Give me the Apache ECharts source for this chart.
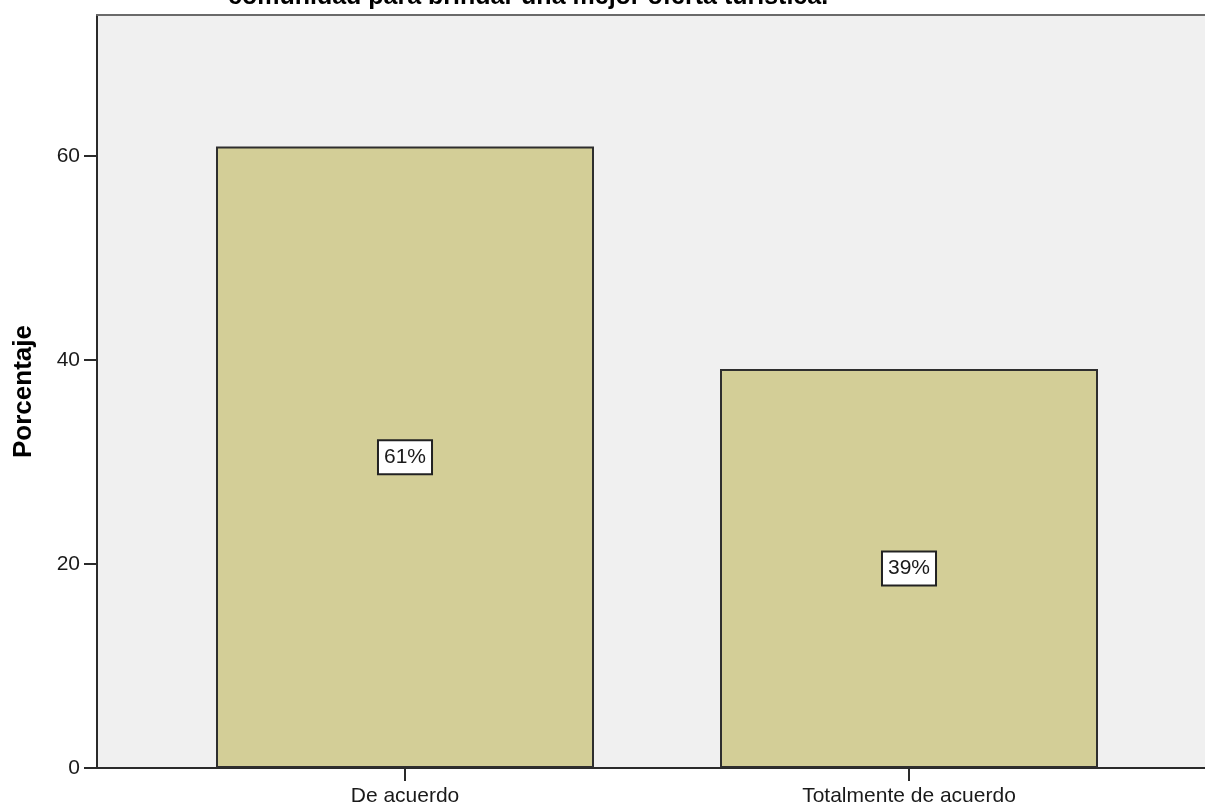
<!DOCTYPE html>
<html>
<head>
<meta charset="utf-8">
<script src="https://cdn.jsdelivr.net/npm/echarts@6/dist/echarts.min.js"></script>
<style>
html,body{margin:0;padding:0;background:#ffffff;}
#chart{width:1205px;height:808px;}
</style>
</head>
<body>
<div id="chart"></div>
<script>
var titleText = 'comunidad para brindar una mejor oferta turística.';
var categories = ['De acuerdo', 'Totalmente de acuerdo'];
var percentValues = [60.9, 39.1];
var percentLabels = ['61%', '39%'];
var yAxisName = 'Porcentaje';

var chart = echarts.init(document.getElementById('chart'));
var FONT = '"Liberation Sans", Arial, sans-serif';
var YMAX = 73.8;

var option = {
  animation: false,
  backgroundColor: '#ffffff',
  graphic: [{
    type: 'text',
    left: 228,
    top: -15,
    z: 10,
    style: {
      text: titleText,
      font: 'bold 25px ' + FONT,
      fill: '#000000'
    }
  }],
  grid: [
    {left: 97, top: 15, width: 1130, bottom: 40, show: true,
     backgroundColor: '#f0f0f0', borderWidth: 0},
    {left: 153, top: 15, width: 1008, bottom: 40}
  ],
  xAxis: [
    {gridIndex: 0, type: 'value', min: 0, max: 1, position: 'bottom',
     axisLine: {show: true, onZero: false, lineStyle: {color: '#2a2a2a', width: 2}},
     axisTick: {show: false}, axisLabel: {show: false}, splitLine: {show: false}},
    {gridIndex: 1, type: 'category', data: categories, boundaryGap: true,
     axisLine: {show: false},
     axisTick: {show: true, alignWithLabel: true, length: 13, lineStyle: {color: '#2a2a2a', width: 2}},
     axisLabel: {margin: 18, fontSize: 21, fontFamily: FONT, color: '#1a1a1a'},
     splitLine: {show: false}},
    {gridIndex: 0, type: 'value', min: 0, max: 1, position: 'top',
     axisLine: {show: true, onZero: false, lineStyle: {color: '#6a6a6a', width: 2}},
     axisTick: {show: false}, axisLabel: {show: false}, splitLine: {show: false}}
  ],
  yAxis: [
    {gridIndex: 0, type: 'value', min: 0, max: YMAX, interval: 20,
     name: yAxisName, nameLocation: 'middle', nameGap: 60,
     nameTextStyle: {fontSize: 26, fontWeight: 'bold', fontFamily: FONT, color: '#000000'},
     axisLine: {show: true, lineStyle: {color: '#2a2a2a', width: 2}},
     axisTick: {show: true, length: 13, lineStyle: {color: '#2a2a2a', width: 2}},
     axisLabel: {margin: 17, fontSize: 21, fontFamily: FONT, color: '#1a1a1a', showMaxLabel: false},
     splitLine: {show: false}},
    {gridIndex: 1, type: 'value', min: 0, max: YMAX, show: false, splitLine: {show: false}}
  ],
  series: [{
    type: 'bar',
    xAxisIndex: 1,
    yAxisIndex: 1,
    barWidth: '75%',
    data: percentValues,
    itemStyle: {color: '#d3ce97', borderColor: '#2e2e2e', borderWidth: 2},
    label: {
      show: true,
      position: 'inside',
      formatter: function (p) { return percentLabels[p.dataIndex]; },
      fontSize: 21,
      fontFamily: FONT,
      color: '#1a1a1a',
      backgroundColor: '#ffffff',
      borderColor: '#222222',
      borderWidth: 2,
      padding: [6, 5, 5, 5]
    }
  }]
};
chart.setOption(option);
</script>
</body>
</html>
